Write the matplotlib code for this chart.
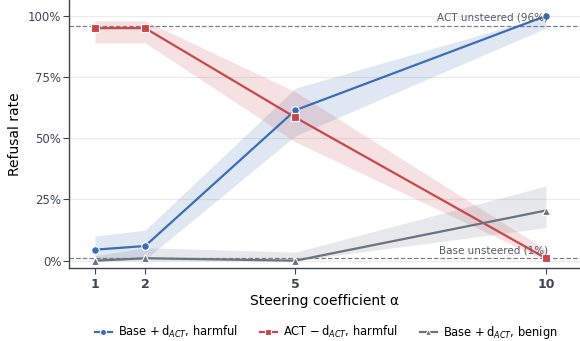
from matplotlib import pyplot as plt
from matplotlib.ticker import PercentFormatter

alpha = [1, 2, 5, 10]

base_harm = [0.045, 0.06, 0.615, 1.0]
base_harm_lo = [0.0, 0.005, 0.51, 0.95]
base_harm_hi = [0.10, 0.125, 0.705, 1.0]

act_harm = [0.95, 0.95, 0.585, 0.01]
act_harm_lo = [0.89, 0.89, 0.485, 0.0]
act_harm_hi = [0.98, 0.98, 0.69, 0.045]

base_benign = [0.0, 0.01, 0.0, 0.205]
base_benign_lo = [0.0, 0.0, 0.0, 0.135]
base_benign_hi = [0.02, 0.053, 0.035, 0.305]

act_unsteered = 0.96
base_unsteered = 0.01

blue = '#3a6db5'
red = '#c9464b'
gray = '#6b7280'
txt = '#3b4556'

fig = plt.figure(figsize=(5.8, 3.41), dpi=100)
ax = fig.add_axes([0.119, 0.214, 0.881, 0.786])

ax.axhline(act_unsteered, color='#808080', ls='--', lw=0.9, zorder=1)
ax.axhline(base_unsteered, color='#808080', ls='--', lw=0.9, zorder=1)

series = [
    (base_harm, base_harm_lo, base_harm_hi, blue, 'o', r'Base $+\,$d$_{ACT}$, harmful'),
    (act_harm, act_harm_lo, act_harm_hi, red, 's', r'ACT $-\,$d$_{ACT}$, harmful'),
    (base_benign, base_benign_lo, base_benign_hi, gray, '^', r'Base $+\,$d$_{ACT}$, benign'),
]
for y, lo, hi, c, m, lab in series:
    ax.fill_between(alpha, lo, hi, color=c, alpha=0.16, lw=0, zorder=2)
    ax.plot(alpha, y, color=c, marker=m, ms=5.5, mec='white', mew=0.8, lw=1.6,
            label=lab, zorder=3)

ax.text(10.05, act_unsteered + 0.012, 'ACT unsteered (96%)', ha='right', va='bottom',
        fontsize=7.5, color='#555a63')
ax.text(10.05, base_unsteered + 0.012, 'Base unsteered (1%)', ha='right', va='bottom',
        fontsize=7.5, color='#555a63')

ax.set_xlim(0.48, 10.68)
ax.set_ylim(-0.03, 1.065)
ax.set_xticks(alpha)
ax.set_xticklabels([str(a) for a in alpha], fontweight='bold', color=txt, fontsize=9)
ax.set_yticks([0, 0.25, 0.5, 0.75, 1.0])
ax.yaxis.set_major_formatter(PercentFormatter(1.0, decimals=0))
ax.tick_params(axis='y', colors=txt, labelsize=8.5, length=4, pad=1.5)
ax.tick_params(axis='x', colors=txt, length=4)
ax.grid(axis='y', color='#ebebeb', lw=0.9)
ax.set_axisbelow(True)
for s in ['top', 'right']:
    ax.spines[s].set_visible(False)
for s in ['left', 'bottom']:
    ax.spines[s].set_color(txt)
    ax.spines[s].set_linewidth(1.0)

ax.set_xlabel('Steering coefficient α', fontsize=10, labelpad=2)
ax.set_ylabel('Refusal rate', fontsize=10)
ax.yaxis.set_label_coords(-0.092, 0.5)

fig.legend(loc='lower center', bbox_to_anchor=(0.562, -0.03), ncol=3, frameon=False,
           fontsize=8.3, handlelength=1.5, handletextpad=0.5, columnspacing=1.9,
           markerscale=0.8)

fig.savefig('out.png', dpi=100)
